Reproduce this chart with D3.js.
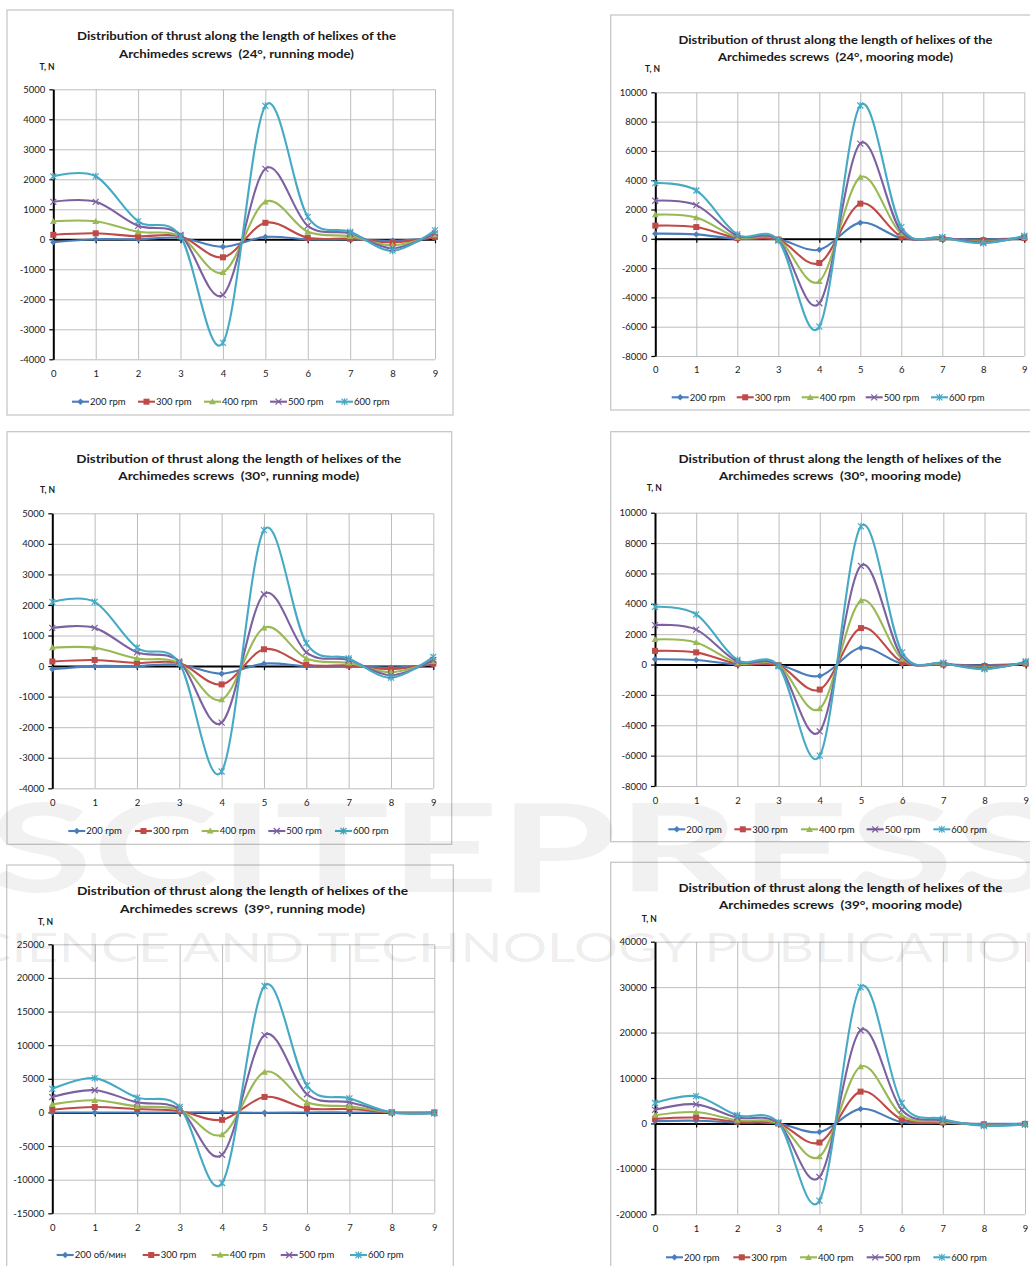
<!DOCTYPE html>
<html>
<head>
<meta charset="utf-8">
<script src="https://cdn.jsdelivr.net/npm/d3@7"></script>
<style>
  html, body { margin: 0; padding: 0; background: #fff; }
  svg { display: block; }
  text { font-family: Lato, "Open Sans", "DejaVu Sans", sans-serif; white-space: pre; }
</style>
</head>
<body>
<svg id="chart" width="1030" height="1266"></svg>
<script>
// ---------------- DATA ----------------
const xValues = [0, 1, 2, 3, 4, 5, 6, 7, 8, 9];
const seriesNames = ["200 rpm", "300 rpm", "400 rpm", "500 rpm", "600 rpm"];
const seriesNames39run = ["200 об/мин", "300 rpm", "400 rpm", "500 rpm", "600 rpm"];

// 24°, running mode  (rows: 200, 300, 400, 500, 600 rpm)
const run24 = [
  [-100, 0, 0, 50, -250, 80, 0, 0, -50, 50],
  [150, 200, 100, 100, -600, 550, 50, 20, -100, 80],
  [600, 600, 250, 100, -1100, 1250, 250, 100, -200, 150],
  [1250, 1250, 450, 150, -1850, 2350, 450, 200, -300, 200],
  [2100, 2100, 600, 100, -3450, 4450, 750, 250, -380, 300]
];
// 24°, mooring mode
const moor24 = [
  [350, 300, 0, -30, -750, 1100, 50, 0, -50, 50],
  [900, 800, 50, -50, -1650, 2400, 150, 0, -100, 50],
  [1650, 1450, 100, -50, -2900, 4200, 350, 50, -200, 100],
  [2600, 2300, 200, -100, -4400, 6500, 500, 100, -250, 150],
  [3800, 3300, 300, -100, -6000, 9100, 800, 100, -300, 200]
];
// 30°, running mode
const run30 = [
  [-100, 0, 0, 50, -250, 80, 0, 0, -50, 50],
  [150, 200, 100, 100, -600, 550, 50, 20, -100, 80],
  [600, 600, 250, 100, -1100, 1250, 250, 100, -200, 150],
  [1250, 1250, 450, 150, -1850, 2350, 450, 200, -300, 200],
  [2100, 2100, 600, 100, -3450, 4450, 750, 250, -380, 300]
];
// 30°, mooring mode
const moor30 = [
  [350, 300, 0, -30, -750, 1100, 50, 0, -50, 50],
  [900, 800, 50, -50, -1650, 2400, 150, 0, -100, 50],
  [1650, 1450, 100, -50, -2900, 4200, 350, 50, -200, 100],
  [2600, 2300, 200, -100, -4400, 6500, 500, 100, -250, 150],
  [3800, 3300, 300, -100, -6000, 9100, 800, 100, -300, 200]
];
// 39°, running mode
const run39 = [
  [0, 0, 0, 0, 0, -50, 0, 0, 0, 0],
  [400, 800, 500, 200, -1100, 2300, 600, 500, 0, 0],
  [1200, 1800, 900, 400, -3300, 6000, 1500, 900, 0, -100],
  [2300, 3300, 1500, 500, -6300, 11500, 2700, 1500, 0, -100],
  [3500, 5100, 2200, 800, -10500, 18800, 4000, 2100, 0, -100]
];
// 39°, mooring mode
const moor39 = [
  [500, 600, 200, 0, -1900, 3200, 300, 100, -100, -50],
  [1000, 1300, 400, 0, -4200, 7000, 900, 200, -200, -100],
  [1800, 2500, 700, 0, -7300, 12500, 1800, 400, -300, -150],
  [3000, 4200, 1300, 100, -11800, 20500, 3000, 700, -400, -200],
  [4500, 6000, 1800, 200, -17000, 30000, 4500, 1000, -500, -200]
];

const yTicks5k = [5000, 4000, 3000, 2000, 1000, 0, -1000, -2000, -3000, -4000];
const yTicks10k = [10000, 8000, 6000, 4000, 2000, 0, -2000, -4000, -6000, -8000];
const yTicks25k = [25000, 20000, 15000, 10000, 5000, 0, -5000, -10000, -15000];
const yTicks40k = [40000, 30000, 20000, 10000, 0, -10000, -20000];

const titleLine1 = "Distribution of thrust along the length of helixes of the";
const titles2 = [
  "Archimedes screws  (24°, running mode)",
  "Archimedes screws  (24°, mooring mode)",
  "Archimedes screws  (30°, running mode)",
  "Archimedes screws  (30°, mooring mode)",
  "Archimedes screws  (39°, running mode)",
  "Archimedes screws  (39°, mooring mode)"
];

// ---------------- STYLE / LAYOUT ----------------
const colors = ["#4A7EBB", "#BE4B48", "#98B954", "#7D60A0", "#46AAC5"];
const markerKinds = ["diamond", "square", "triangle", "x", "star"];

const layouts = [
  { frame: [7, 10, 453, 415], x0: 53.3, x9: 435, yTop: 89.3, yBot: 359.3, t1: 35.7, t2: 53.3, tx: 236.5, w1: 319, w2: 235, tnX: 39.5, tnY: 67.5, xLab: 373.5, legY: 401.7, leg: [72, 138, 204, 270, 336] },
  { frame: [610.7, 15, 1045, 410], x0: 655.3, x9: 1024.3, yTop: 92.3, yBot: 356, t1: 39.3, t2: 56.7, tx: 835.5, w1: 314, w2: 235, tnX: 645, tnY: 69, xLab: 370, legY: 397.3, leg: [671.7, 736.7, 801.7, 865.7, 931] },
  { frame: [7, 431.7, 451.7, 844.3], x0: 52.3, x9: 433.3, yTop: 513.3, yBot: 788.3, t1: 458.3, t2: 475.7, tx: 238.8, w1: 325, w2: 241, tnX: 40, tnY: 490, xLab: 803.3, legY: 831, leg: [68.3, 135, 201.7, 268.3, 335] },
  { frame: [610.7, 431.7, 1045, 841.7], x0: 655, x9: 1025.7, yTop: 512.7, yBot: 786, t1: 458.3, t2: 475.7, tx: 840, w1: 323, w2: 242, tnX: 646.7, tnY: 488.3, xLab: 801, legY: 829.3, leg: [668.3, 734.3, 801, 866.7, 933.3] },
  { frame: [6.7, 865, 453.3, 1280], x0: 52.3, x9: 434.3, yTop: 944.3, yBot: 1213.3, t1: 890.7, t2: 908.3, tx: 242.5, w1: 331, w2: 245, tnX: 38, tnY: 922.3, xLab: 1228.3, legY: 1255, leg: [56.7, 142.7, 211.7, 280.7, 350] },
  { frame: [610.7, 862.3, 1045, 1280], x0: 655, x9: 1025, yTop: 941.7, yBot: 1214.3, t1: 887.3, t2: 905, tx: 840.5, w1: 324, w2: 243, tnX: 641.7, tnY: 919.3, xLab: 1229, legY: 1257.3, leg: [666, 733.3, 800, 866.7, 933.3] }
];

const panels = [
  { data: run24, ticks: yTicks5k, names: seriesNames, title2: titles2[0] },
  { data: moor24, ticks: yTicks10k, names: seriesNames, title2: titles2[1] },
  { data: run30, ticks: yTicks5k, names: seriesNames, title2: titles2[2] },
  { data: moor30, ticks: yTicks10k, names: seriesNames, title2: titles2[3] },
  { data: run39, ticks: yTicks25k, names: seriesNames39run, title2: titles2[4] },
  { data: moor39, ticks: yTicks40k, names: seriesNames, title2: titles2[5] }
];

const svg = d3.select("#chart");

function drawMarker(g, kind, cx, cy, color) {
  const s = 3.2;
  if (kind === "diamond") {
    g.append("path").attr("d", `M${cx},${cy - s}L${cx + s},${cy}L${cx},${cy + s}L${cx - s},${cy}Z`).attr("fill", color);
  } else if (kind === "square") {
    g.append("rect").attr("x", cx - 3).attr("y", cy - 3).attr("width", 6).attr("height", 6).attr("fill", color);
  } else if (kind === "triangle") {
    g.append("path").attr("d", `M${cx},${cy - 3.4}L${cx + 3.4},${cy + 2.6}L${cx - 3.4},${cy + 2.6}Z`).attr("fill", color);
  } else if (kind === "x") {
    g.append("path").attr("d", `M${cx - 3},${cy - 3}L${cx + 3},${cy + 3}M${cx - 3},${cy + 3}L${cx + 3},${cy - 3}`)
      .attr("stroke", color).attr("stroke-width", 1.2).attr("fill", "none");
  } else {
    g.append("path").attr("d", `M${cx - 3},${cy - 3}L${cx + 3},${cy + 3}M${cx - 3},${cy + 3}L${cx + 3},${cy - 3}M${cx},${cy - 3.5}L${cx},${cy + 3.5}`)
      .attr("stroke", color).attr("stroke-width", 1.2).attr("fill", "none");
  }
}

panels.forEach((p, pi) => {
  const L = layouts[pi];
  const g = svg.append("g");

  // frame
  g.append("rect")
    .attr("x", L.frame[0]).attr("y", L.frame[1])
    .attr("width", L.frame[2] - L.frame[0]).attr("height", L.frame[3] - L.frame[1])
    .attr("fill", "#fff").attr("stroke", "#c4c4c4").attr("stroke-width", 1.2);

  const x = d3.scaleLinear().domain([xValues[0], xValues[xValues.length - 1]]).range([L.x0, L.x9]);
  const y = d3.scaleLinear().domain([p.ticks[p.ticks.length - 1], p.ticks[0]]).range([L.yBot, L.yTop]);

  // horizontal gridlines
  g.append("g")
    .attr("transform", `translate(${L.x0},0)`)
    .call(d3.axisRight(y).tickValues(p.ticks).tickSize(L.x9 - L.x0).tickFormat(""))
    .call(a => a.select(".domain").remove())
    .call(a => a.selectAll("line").attr("stroke", "#bdbdbd").attr("stroke-width", 1));

  // vertical gridlines
  g.append("g")
    .attr("transform", `translate(0,${L.yTop})`)
    .call(d3.axisBottom(x).tickValues(xValues.slice(1)).tickSize(L.yBot - L.yTop).tickFormat(""))
    .call(a => a.select(".domain").remove())
    .call(a => a.selectAll("line").attr("stroke", "#bdbdbd").attr("stroke-width", 1));

  // y axis
  g.append("g")
    .attr("transform", `translate(${L.x0},0)`)
    .call(d3.axisLeft(y).tickValues(p.ticks).tickSize(4).tickSizeOuter(0).tickPadding(4).tickFormat(d => String(d)))
    .call(a => a.select(".domain").attr("stroke", "#000").attr("stroke-width", 2))
    .call(a => a.selectAll(".tick line").attr("stroke", "#000").attr("stroke-width", 1.2))
    .call(a => a.selectAll("text").attr("font-size", 9.5).attr("fill", "#1a1a1a"));

  // x tick labels at bottom
  g.append("g")
    .attr("transform", `translate(0,${L.yBot})`)
    .call(d3.axisBottom(x).tickValues(xValues).tickSize(0).tickPadding(L.xLab - L.yBot - 3.6).tickFormat(d => String(d)))
    .call(a => a.select(".domain").remove())
    .call(a => a.selectAll("text").attr("font-size", 9.5).attr("fill", "#1a1a1a"));

  // zero axis line with ticks
  g.append("g")
    .attr("transform", `translate(0,${y(0)})`)
    .call(d3.axisBottom(x).tickValues(xValues).tickSize(4).tickSizeOuter(0).tickFormat(""))
    .call(a => a.select(".domain").attr("stroke", "#000").attr("stroke-width", 2))
    .call(a => a.selectAll(".tick line").attr("stroke", "#000").attr("stroke-width", 1.2));

  // series lines (smoothed like the spreadsheet's "smoothed line")
  const line = d3.line()
    .x((d, i) => x(xValues[i]))
    .y(d => y(d))
    .curve(d3.curveCardinal.tension(0));

  p.data.forEach((vals, si) => {
    g.append("path")
      .attr("d", line(vals))
      .attr("fill", "none")
      .attr("stroke", colors[si])
      .attr("stroke-width", 2.1)
      .attr("stroke-linejoin", "round");
  });
  p.data.forEach((vals, si) => {
    const mg = g.append("g");
    vals.forEach((v, i) => drawMarker(mg, markerKinds[si], x(xValues[i]), y(v), colors[si]));
  });

  // titles
  g.append("text").attr("x", L.tx).attr("y", L.t1).attr("dy", "0.35em")
    .attr("text-anchor", "middle").attr("font-size", 12).attr("font-weight", "bold").attr("fill", "#1a1a1a")
    .attr("textLength", L.w1).attr("lengthAdjust", "spacingAndGlyphs")
    .text(titleLine1);
  g.append("text").attr("x", L.tx).attr("y", L.t2).attr("dy", "0.35em")
    .attr("text-anchor", "middle").attr("font-size", 12).attr("font-weight", "bold").attr("fill", "#1a1a1a")
    .attr("textLength", L.w2).attr("lengthAdjust", "spacingAndGlyphs")
    .text(p.title2);

  // axis title
  g.append("text").attr("x", L.tnX).attr("y", L.tnY).attr("dy", "0.35em")
    .attr("font-size", 8.5).attr("font-weight", "bold").attr("fill", "#1a1a1a")
    .text("T, N");

  // legend
  p.names.forEach((name, si) => {
    const s = L.leg[si];
    g.append("line").attr("x1", s).attr("x2", s + 17).attr("y1", L.legY).attr("y2", L.legY)
      .attr("stroke", colors[si]).attr("stroke-width", 2.1);
    drawMarker(g, markerKinds[si], s + 8.5, L.legY, colors[si]);
    g.append("text").attr("x", s + 18).attr("y", L.legY).attr("dy", "0.35em")
      .attr("font-size", 9.5).attr("fill", "#1a1a1a").text(name);
  });
});

// faint publisher watermark overlay
const wm = svg.append("g").attr("pointer-events", "none");
wm.append("text").attr("x", -12).attr("y", 892)
  .attr("font-size", 122).attr("font-weight", "bold").attr("fill", "#000").attr("fill-opacity", 0.055)
  .attr("textLength", 1070).attr("lengthAdjust", "spacingAndGlyphs")
  .text("SCITEPRESS");
wm.append("text").attr("x", -56).attr("y", 962)
  .attr("font-size", 40).attr("fill", "#000").attr("fill-opacity", 0.08)
  .attr("textLength", 1150).attr("lengthAdjust", "spacingAndGlyphs")
  .text("SCIENCE AND TECHNOLOGY PUBLICATIONS");
</script>
</body>
</html>
